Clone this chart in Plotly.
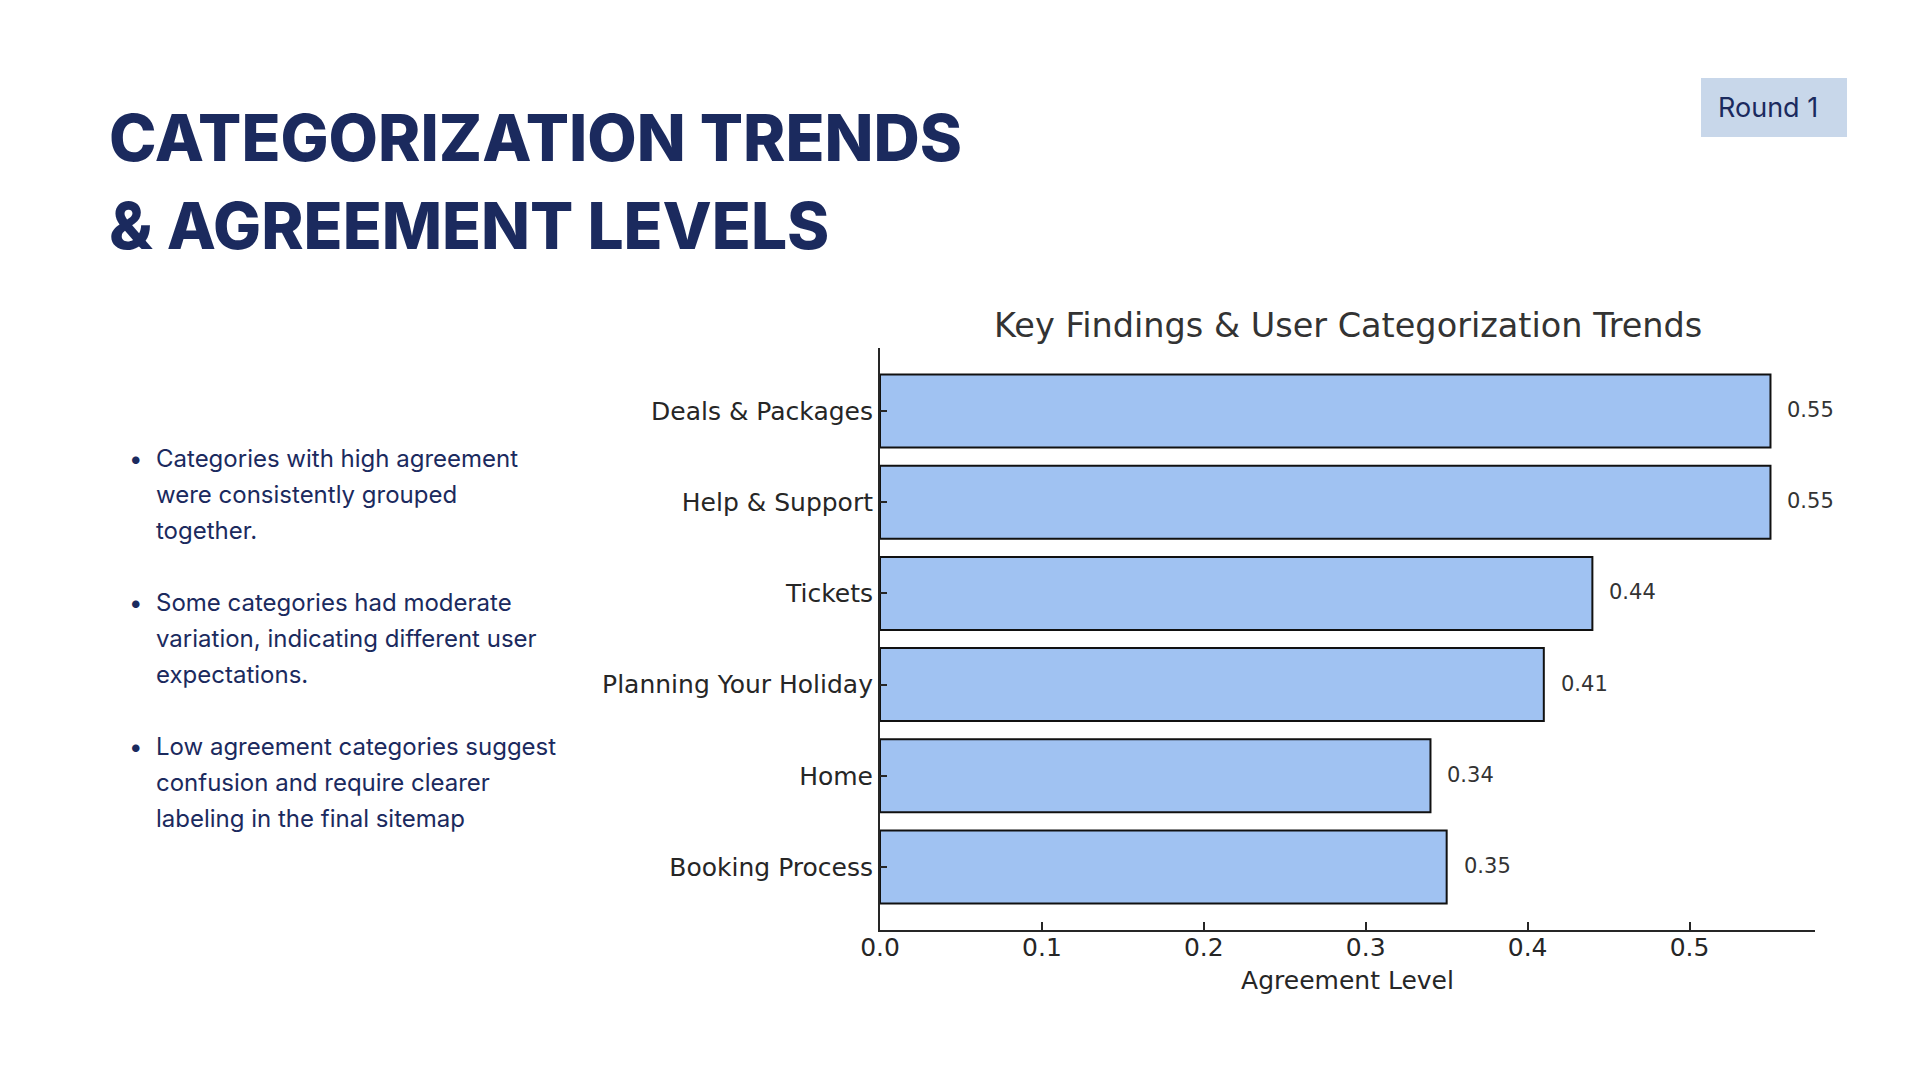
import plotly.graph_objects as go

# ---- data ----
categories = ["Deals & Packages", "Help & Support", "Tickets",
              "Planning Your Holiday", "Home", "Booking Process"]
agreement = [0.55, 0.55, 0.44, 0.41, 0.34, 0.35]
x_ticks = [0.0, 0.1, 0.2, 0.3, 0.4, 0.5]
x_tick_labels = ["0.0", "0.1", "0.2", "0.3", "0.4", "0.5"]

title_lines = ["CATEGORIZATION TRENDS", "& AGREEMENT LEVELS"]
bullets = [
    ["Categories with high agreement", "were consistently grouped", "together."],
    ["Some categories had moderate", "variation, indicating different user", "expectations."],
    ["Low agreement categories suggest", "confusion and require clearer", "labeling in the final sitemap"],
]
chart_title = "Key Findings & User Categorization Trends"
x_title = "Agreement Level"
badge_text = "Round 1"

# ---- style ----
W, H = 1920, 1080
OFF = 8  # page body margin
NAVY = "#1b2a5e"
BAR = "#a0c2f2"
DARK = "#262626"


def px(x):
    return (x - OFF) / W


def py(y):
    return 1 - (y - OFF) / H


x0, x1 = 880, 1815
y0, y1 = 348, 930

fig = go.Figure()
fig.add_trace(go.Bar(
    x=agreement, y=categories, orientation="h", width=0.8,
    marker=dict(color=BAR, line=dict(color="#111111", width=2)),
    hoverinfo="skip", showlegend=False,
))

annotations = []
# value labels
for c, v in zip(categories, agreement):
    annotations.append(dict(
        x=v, y=c, xref="x", yref="y", text=f"{v:.2f}", showarrow=False,
        xanchor="left", yanchor="middle", xshift=15, yshift=1,
        font=dict(family="DejaVu Sans", size=21, color="#333333"),
    ))

# slide title
title_mid = [137, 225]
for line, ym in zip(title_lines, title_mid):
    annotations.append(dict(
        x=px(107), y=py(ym), xref="paper", yref="paper", text=line,
        showarrow=False, xanchor="left", yanchor="middle",
        font=dict(family="Inter", size=64, color=NAVY, weight=800),
    ))

# bullets
base = 467
k = 0
for para in bullets:
    for j, line in enumerate(para):
        b = base + 36 * k
        ym = b - 8.7
        if j == 0:
            annotations.append(dict(
                x=px(136), y=py(ym), xref="paper", yref="paper", text="•",
                showarrow=False, xanchor="center", yanchor="middle",
                font=dict(family="Inter", size=24, color=NAVY),
            ))
        annotations.append(dict(
            x=px(154), y=py(ym), xref="paper", yref="paper", text=line,
            showarrow=False, xanchor="left", yanchor="middle",
            font=dict(family="Inter", size=24, color=NAVY),
        ))
        k += 1
    k += 1

# chart title
annotations.append(dict(
    x=px((x0 + x1) / 2), y=py(325), xref="paper", yref="paper", text=chart_title,
    showarrow=False, xanchor="center", yanchor="middle",
    font=dict(family="DejaVu Sans", size=33.5, color="#333333"),
))

# badge
annotations.append(dict(
    x=px(1716), y=py(108), xref="paper", yref="paper", text=badge_text,
    showarrow=False, xanchor="left", yanchor="middle",
    font=dict(family="Inter", size=27, color=NAVY),
))

shapes = [dict(type="rect", xref="paper", yref="paper",
               x0=px(1701), x1=px(1847), y0=py(137), y1=py(78),
               fillcolor="#c8d7ea", line=dict(width=0), layer="below")]

n = len(categories)
fig.update_layout(
    width=W, height=H,
    margin=dict(l=0, r=0, t=0, b=0, autoexpand=False),
    paper_bgcolor="white", plot_bgcolor="white",
    annotations=annotations, shapes=shapes,
    bargap=0.2,
    xaxis=dict(
        domain=[px(x0), px(x1)], range=[0, 0.5775],
        tickvals=x_ticks, ticktext=x_tick_labels,
        ticks="inside", ticklen=8, tickwidth=1.5, tickcolor=DARK,
        showline=True, linecolor=DARK, linewidth=2,
        showgrid=False, zeroline=False, automargin=False,
        tickfont=dict(family="DejaVu Sans", size=25, color=DARK),
        ticklabelstandoff=-6,
        title=dict(text=x_title, standoff=10,
                   font=dict(family="DejaVu Sans", size=25, color=DARK)),
        layer="above traces",
    ),
    yaxis=dict(
        domain=[py(y1), py(y0)],
        range=[n - 1 + 0.69, -0.69],
        categoryorder="array", categoryarray=categories,
        ticks="inside", ticklen=7, tickwidth=1.5, tickcolor=DARK,
        showline=True, linecolor=DARK, linewidth=2,
        showgrid=False, zeroline=False, automargin=False,
        tickfont=dict(family="DejaVu Sans", size=25, color=DARK),
        ticklabelstandoff=0,
        layer="above traces",
    ),
)

fig.write_html("out.html")
